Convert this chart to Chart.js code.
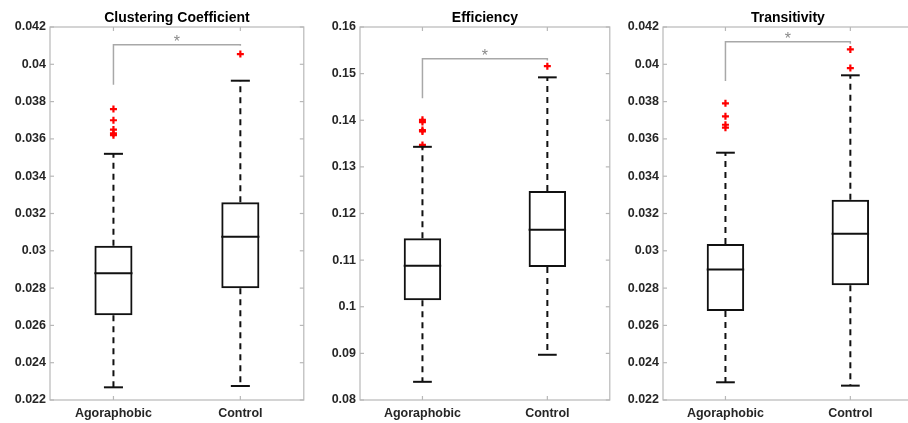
<!DOCTYPE html>
<html>
<head>
<meta charset="utf-8">
<script src="https://cdn.jsdelivr.net/npm/chart.js@4"></script>
<style>
  html, body { margin: 0; padding: 0; background: #fff; overflow: hidden; width: 908px; height: 423px; }
  canvas { position: absolute; top: 0; }
</style>
</head>
<body>
<canvas id="c1" width="310" height="423" style="left:0px"></canvas>
<canvas id="c2" width="306" height="423" style="left:310px"></canvas>
<canvas id="c3" width="306" height="423" style="left:613px"></canvas>
<script>
const groups = ["Agoraphobic", "Control"];
const titles = ["Clustering Coefficient", "Efficiency", "Transitivity"];

// Clustering Coefficient
const ccQ1 = [0.02654, 0.02799];
const ccMed = [0.02879, 0.03076];
const ccQ3 = [0.03027, 0.0326];
const ccLo = [0.02268, 0.02275];
const ccHi = [0.0352, 0.03912];
const ccOutAgo = [0.0376, 0.0370, 0.0365, 0.0363, 0.0362];
const ccOutCon = [0.04055];
const ccSig = [0.04105, 0.0389, 0.0410]; // top, left end, right end
const ccTicks = [0.022, 0.024, 0.026, 0.028, 0.03, 0.032, 0.034, 0.036, 0.038, 0.04, 0.042];

// Efficiency
const effQ1 = [0.1014, 0.1085];
const effMed = [0.1088, 0.1165];
const effQ3 = [0.1147, 0.1248];
const effLo = [0.0839, 0.0897];
const effHi = [0.1343, 0.1492];
const effOutAgo = [0.1401, 0.1396, 0.1379, 0.1376, 0.1347];
const effOutCon = [0.1516];
const effSig = [0.1532, 0.1447, 0.1528];
const effTicks = [0.08, 0.09, 0.1, 0.11, 0.12, 0.13, 0.14, 0.15, 0.16];

// Transitivity
const trQ1 = [0.02677, 0.02815];
const trMed = [0.0290, 0.03092];
const trQ3 = [0.03036, 0.03274];
const trLo = [0.02295, 0.02277];
const trHi = [0.03526, 0.03941];
const trOutAgo = [0.03791, 0.03721, 0.03676, 0.0366];
const trOutCon = [0.0408, 0.0398];
const trSig = [0.04121, 0.0391, 0.0411];
const trTicks = [0.022, 0.024, 0.026, 0.028, 0.03, 0.032, 0.034, 0.036, 0.038, 0.04, 0.042];

const FONT = "'Liberation Sans', Arial, Helvetica, sans-serif";
const AXIS_GRAY = "#b8b8b8";

function seg(ctx, x1, y1, x2, y2) {
  ctx.beginPath();
  ctx.moveTo(x1, y1);
  ctx.lineTo(x2, y2);
  ctx.stroke();
}

const boxExtras = {
  id: "boxExtras",
  afterDatasetsDraw(chart, args, o) {
    const ctx = chart.ctx, x = chart.scales.x, y = chart.scales.y;
    const bars = chart.getDatasetMeta(0).data;
    ctx.save();
    ctx.strokeStyle = "#111";
    ctx.lineWidth = 2;
    o.med.forEach((m, i) => {
      const cx = x.getPixelForValue(i);
      const hw = bars[i].width / 2;
      const yq1 = y.getPixelForValue(o.q1[i]), yq3 = y.getPixelForValue(o.q3[i]);
      const ylo = y.getPixelForValue(o.lo[i]), yhi = y.getPixelForValue(o.hi[i]);
      ctx.setLineDash([6, 5]);
      seg(ctx, cx, yq3, cx, yhi);
      seg(ctx, cx, yq1, cx, ylo);
      ctx.setLineDash([]);
      seg(ctx, cx - hw / 2, yhi, cx + hw / 2, yhi);
      seg(ctx, cx - hw / 2, ylo, cx + hw / 2, ylo);
      const ym = y.getPixelForValue(m);
      seg(ctx, cx - hw, ym, cx + hw, ym);
    });
    ctx.restore();
  },
  afterDraw(chart, args, o) {
    const ctx = chart.ctx, x = chart.scales.x, y = chart.scales.y;
    const a = chart.chartArea;
    ctx.save();
    // axes box + inward ticks
    ctx.strokeStyle = AXIS_GRAY;
    ctx.lineWidth = 1.2;
    ctx.strokeRect(a.left, a.top, a.right - a.left, a.bottom - a.top);
    y.ticks.forEach(t => {
      const py = y.getPixelForValue(t.value);
      seg(ctx, a.left, py, a.left + 4, py);
      seg(ctx, a.right, py, a.right - 4, py);
    });
    groups.forEach((g, i) => {
      const px = x.getPixelForValue(i);
      seg(ctx, px, a.bottom, px, a.bottom - 4);
      seg(ctx, px, a.top, px, a.top + 4);
    });
    // significance bracket
    const xl = x.getPixelForValue(0), xr = x.getPixelForValue(1);
    const yt = y.getPixelForValue(o.sig[0]);
    ctx.strokeStyle = "#a8a8a8";
    ctx.lineWidth = 1.5;
    ctx.beginPath();
    ctx.moveTo(xl, y.getPixelForValue(o.sig[1]));
    ctx.lineTo(xl, yt);
    ctx.lineTo(xr, yt);
    ctx.lineTo(xr, y.getPixelForValue(o.sig[2]));
    ctx.stroke();
    ctx.fillStyle = "#8a8a8a";
    ctx.font = "16px " + FONT;
    ctx.textAlign = "center";
    ctx.textBaseline = "alphabetic";
    ctx.fillText("*", (xl + xr) / 2, yt + 2);
    // title
    ctx.fillStyle = "#000";
    ctx.font = "bold 14px " + FONT;
    ctx.fillText(o.title, (a.left + a.right) / 2, 21.5);
    ctx.restore();
  }
};

function makePanel(id, title, q1, med, q3, lo, hi, outAgo, outCon, sig, ticks, padRight) {
  const outliers = outAgo.map(v => ({ x: groups[0], y: v }))
    .concat(outCon.map(v => ({ x: groups[1], y: v })));
  new Chart(document.getElementById(id).getContext("2d"), {
    type: "bar",
    data: {
      labels: groups,
      datasets: [{
        data: q1.map((v, i) => [v, q3[i]]),
        backgroundColor: "rgba(0,0,0,0)",
        borderColor: "#111",
        borderWidth: 2,
        borderSkipped: false,
        barPercentage: 0.3,
        categoryPercentage: 1
      }, {
        type: "line",
        data: outliers,
        showLine: false,
        pointStyle: "cross",
        pointRadius: 3.5,
        pointBorderWidth: 2.2,
        pointBorderColor: "#ff0000",
        pointBackgroundColor: "#ff0000",
        borderColor: "#ff0000"
      }]
    },
    options: {
      responsive: false,
      animation: false,
      events: [],
      layout: { padding: { top: 27, right: padRight, left: 0, bottom: 0 } },
      plugins: {
        legend: { display: false },
        tooltip: { enabled: false },
        boxExtras: { title: title, q1: q1, med: med, q3: q3, lo: lo, hi: hi, sig: sig }
      },
      scales: {
        x: {
          offset: true,
          grid: { display: false, drawTicks: false, tickLength: 0 },
          border: { display: false },
          ticks: { color: "#262626", padding: 6, font: { family: FONT, size: 12.5, weight: "bold" } },
          afterFit: s => { s.height = 23; }
        },
        y: {
          min: ticks[0],
          max: ticks[ticks.length - 1],
          grid: { display: false, drawTicks: false, tickLength: 0 },
          border: { display: false },
          afterBuildTicks: s => { s.ticks = ticks.map(v => ({ value: v })); },
          ticks: {
            color: "#262626",
            padding: 4,
            font: { family: FONT, size: 12.5, weight: "bold" },
            callback: v => String(parseFloat(v.toFixed(4)))
          },
          afterFit: s => { s.width = 50; }
        }
      }
    },
    plugins: [boxExtras]
  });
}

makePanel("c1", titles[0], ccQ1, ccMed, ccQ3, ccLo, ccHi, ccOutAgo, ccOutCon, ccSig, ccTicks, 3);
makePanel("c2", titles[1], effQ1, effMed, effQ3, effLo, effHi, effOutAgo, effOutCon, effSig, effTicks, 3);
makePanel("c3", titles[2], trQ1, trMed, trQ3, trLo, trHi, trOutAgo, trOutCon, trSig, trTicks, 3);
</script>
</body>
</html>
